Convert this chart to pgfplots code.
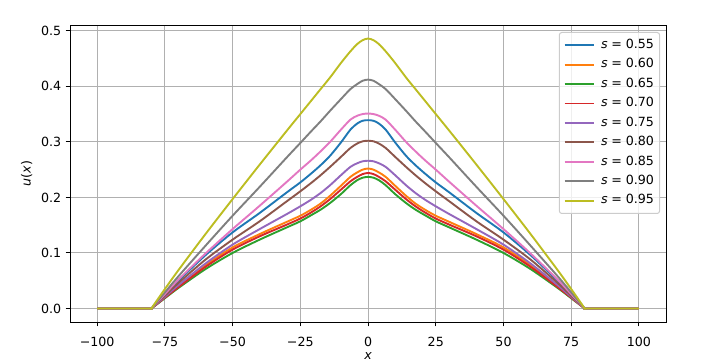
\documentclass[border=0pt]{standalone}
\usepackage{fontspec}
\setmainfont{DejaVu Sans}
\usepackage{pgfplots}
\usepackage{pgfplotstable}
\pgfplotsset{compat=1.18}

\definecolor{mplblue}{RGB}{31,119,180}
\definecolor{mplorange}{RGB}{255,127,14}
\definecolor{mplgreen}{RGB}{44,160,44}
\definecolor{mplred}{RGB}{214,39,40}
\definecolor{mplpurple}{RGB}{148,103,189}
\definecolor{mplbrown}{RGB}{140,86,75}
\definecolor{mplpink}{RGB}{227,119,194}
\definecolor{mplgray}{RGB}{127,127,127}
\definecolor{mplolive}{RGB}{188,189,34}
\definecolor{gridgray}{RGB}{176,176,176}
\definecolor{legendgray}{RGB}{204,204,204}

% u(x) for each s (symmetric about x = 0)
\pgfplotstableread{
x      s55   s60   s65    s70    s75    s80    s85    s90    s95
-100   0     0     0      0      0      0      0      0      0
-81    0     0     0      0      0      0      0      0      0
-80    0     0     0      0      0      0      0      0      0
-79    0.005 0.004 0.0037 0.0039 0.0042 0.0046 0.0052 0.0058 0.007
-75    0.025 0.020 0.0185 0.0195 0.021  0.023  0.026  0.029  0.035
-70    0.050 0.040 0.037  0.0385 0.042  0.046  0.052  0.058  0.069
-60    0.096 0.078 0.071  0.075  0.081  0.088  0.099  0.113  0.134
-50    0.137 0.110 0.100  0.106  0.115  0.124  0.143  0.167  0.197
-40    0.172 0.134 0.124  0.130  0.143  0.157  0.185  0.219  0.259
-30    0.209 0.156 0.146  0.151  0.170  0.193  0.228  0.272  0.320
-25    0.227 0.167 0.157  0.162  0.184  0.211  0.250  0.298  0.350
-21    0.243 0.178 0.168  0.173  0.196  0.226  0.267  0.319  0.374
-17.5  0.258 0.189 0.178  0.184  0.208  0.240  0.283  0.337  0.395
-14    0.275 0.203 0.190  0.197  0.222  0.255  0.300  0.356  0.416
-10    0.299 0.221 0.206  0.214  0.240  0.273  0.322  0.377  0.442
-6.5   0.322 0.237 0.222  0.229  0.255  0.289  0.340  0.395  0.463
-4     0.333 0.245 0.231  0.237  0.2615 0.297  0.347  0.404  0.476
-2     0.338 0.250 0.2355 0.242  0.265  0.301  0.350  0.410  0.483
0      0.339 0.252 0.237  0.244  0.266  0.302  0.351  0.412  0.486
2      0.338 0.250 0.2355 0.242  0.265  0.301  0.350  0.410  0.483
4      0.333 0.245 0.231  0.237  0.2615 0.297  0.347  0.404  0.476
6.5    0.322 0.237 0.222  0.229  0.255  0.289  0.340  0.395  0.463
10     0.299 0.221 0.206  0.214  0.240  0.273  0.322  0.377  0.442
14     0.275 0.203 0.190  0.197  0.222  0.255  0.300  0.356  0.416
17.5   0.258 0.189 0.178  0.184  0.208  0.240  0.283  0.337  0.395
21     0.243 0.178 0.168  0.173  0.196  0.226  0.267  0.319  0.374
25     0.227 0.167 0.157  0.162  0.184  0.211  0.250  0.298  0.350
30     0.209 0.156 0.146  0.151  0.170  0.193  0.228  0.272  0.320
40     0.172 0.134 0.124  0.130  0.143  0.157  0.185  0.219  0.259
50     0.137 0.110 0.100  0.106  0.115  0.124  0.143  0.167  0.197
60     0.096 0.078 0.071  0.075  0.081  0.088  0.099  0.113  0.134
70     0.050 0.040 0.037  0.0385 0.042  0.046  0.052  0.058  0.069
75     0.025 0.020 0.0185 0.0195 0.021  0.023  0.026  0.029  0.035
79     0.005 0.004 0.0037 0.0039 0.0042 0.0046 0.0052 0.0058 0.007
80     0     0     0      0      0      0      0      0      0
81     0     0     0      0      0      0      0      0      0
100    0     0     0      0      0      0      0      0      0
}\udata

\newcommand{\sval}[1]{\textit{s}\hspace{0.3em}=\hspace{0.3em}#1}

\begin{document}
\begin{tikzpicture}
\path (0,0) rectangle (576pt,287.2pt);
\begin{axis}[
    scale only axis,
    width=471.6pt, height=235pt,
    at={(55.4pt,32.4pt)}, anchor=south west,
    xmin=-110, xmax=110,
    ymin=-0.0243, ymax=0.5103,
    xtick={-100,-75,-50,-25,0,25,50,75,100},
    xticklabels={−100,−75,−50,−25,0,25,50,75,100},
    ytick={0,0.1,0.2,0.3,0.4,0.5},
    yticklabels={0.0,0.1,0.2,0.3,0.4,0.5},
    xticklabel style={yshift=-5pt},
    xlabel style={yshift=2.5pt},
    tick pos=left,
    tick align=outside,
    major tick length=3.5pt,
    tick style={black, line width=0.8pt},
    axis line style={line width=0.8pt},
    grid=major,
    grid style={gridgray, line width=0.8pt},
    xlabel={\textit{x}},
    ylabel={\textit{u}(\textit{x})},
    % each curve carries its own legend sample
    curve/.style={draw=#1, line width=1.5pt, smooth, tension=0.5,
        legend image code/.code={\draw[draw=#1, line width=1.5pt]
            (0pt,0pt) -- (23pt,0pt);}},
    legend cell align=left,
    legend style={at={(1,1)}, anchor=north east, xshift=-4.7pt, yshift=-5.5pt,
        draw=legendgray, line width=0.8pt, fill=white, fill opacity=0.8,
        text opacity=1, rounded corners=2pt,
        nodes={text height=7.5pt, text depth=2.5pt, inner sep=1pt},
        /tikz/every odd column/.append style={column sep=4pt},
        row sep=3.4pt, inner xsep=3.5pt, inner ysep=4pt},
]
\addplot[curve=mplblue] table[x=x, y=s55] {\udata};
\addlegendentry{\sval{0.55}}
\addplot[curve=mplorange] table[x=x, y=s60] {\udata};
\addlegendentry{\sval{0.60}}
\addplot[curve=mplgreen] table[x=x, y=s65] {\udata};
\addlegendentry{\sval{0.65}}
\addplot[curve=mplred] table[x=x, y=s70] {\udata};
\addlegendentry{\sval{0.70}}
\addplot[curve=mplpurple] table[x=x, y=s75] {\udata};
\addlegendentry{\sval{0.75}}
\addplot[curve=mplbrown] table[x=x, y=s80] {\udata};
\addlegendentry{\sval{0.80}}
\addplot[curve=mplpink] table[x=x, y=s85] {\udata};
\addlegendentry{\sval{0.85}}
\addplot[curve=mplgray] table[x=x, y=s90] {\udata};
\addlegendentry{\sval{0.90}}
\addplot[curve=mplolive] table[x=x, y=s95] {\udata};
\addlegendentry{\sval{0.95}}
\end{axis}
\end{tikzpicture}
\end{document}
